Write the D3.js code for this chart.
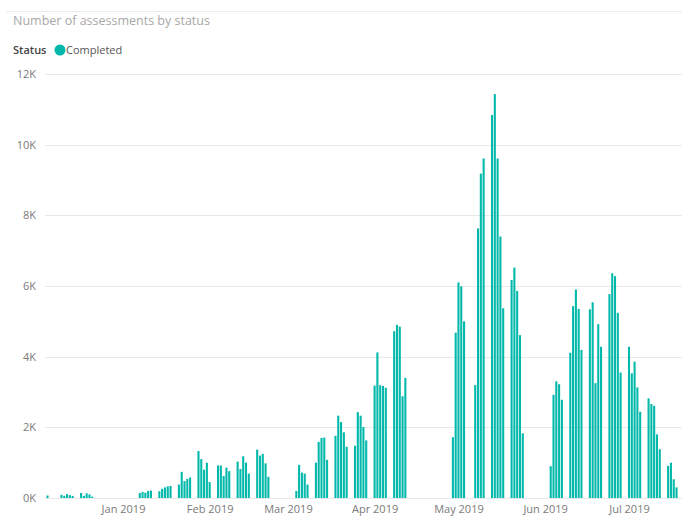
<!DOCTYPE html>
<html>
<head>
<meta charset="utf-8">
<script src="https://cdn.jsdelivr.net/npm/d3@7/dist/d3.min.js"></script>
<style>
  html, body { margin: 0; padding: 0; background: #ffffff; }
  svg { display: block; font-family: "Segoe UI", "Open Sans", "Noto Sans", sans-serif; }
</style>
</head>
<body>
<svg id="chart" width="682" height="517"></svg>
<script>
// ---------- DATA ----------
const chartTitle = "Number of assessments by status";
const legendTitle = "Status";
const seriesName = "Completed";

const dates = [
  "2018-12-05",
  "2018-12-10","2018-12-11","2018-12-12","2018-12-13","2018-12-14",
  "2018-12-17","2018-12-18","2018-12-19","2018-12-20","2018-12-21",
  "2019-01-07","2019-01-08","2019-01-09","2019-01-10","2019-01-11",
  "2019-01-14","2019-01-15","2019-01-16","2019-01-17","2019-01-18",
  "2019-01-21","2019-01-22","2019-01-23","2019-01-24","2019-01-25",
  "2019-01-28","2019-01-29","2019-01-30","2019-01-31","2019-02-01",
  "2019-02-04","2019-02-05","2019-02-06","2019-02-07","2019-02-08",
  "2019-02-11","2019-02-12","2019-02-13","2019-02-14","2019-02-15",
  "2019-02-18","2019-02-19","2019-02-20","2019-02-21","2019-02-22",
  "2019-03-04","2019-03-05","2019-03-06","2019-03-07","2019-03-08",
  "2019-03-11","2019-03-12","2019-03-13","2019-03-14","2019-03-15",
  "2019-03-18","2019-03-19","2019-03-20","2019-03-21","2019-03-22",
  "2019-03-25","2019-03-26","2019-03-27","2019-03-28","2019-03-29",
  "2019-04-01","2019-04-02","2019-04-03","2019-04-04","2019-04-05",
  "2019-04-08","2019-04-09","2019-04-10","2019-04-11","2019-04-12",
  "2019-04-29","2019-04-30","2019-05-01","2019-05-02","2019-05-03",
  "2019-05-07","2019-05-08","2019-05-09","2019-05-10",
  "2019-05-13","2019-05-14","2019-05-15","2019-05-16","2019-05-17",
  "2019-05-20","2019-05-21","2019-05-22","2019-05-23","2019-05-24",
  "2019-06-03","2019-06-04","2019-06-05","2019-06-06","2019-06-07",
  "2019-06-10","2019-06-11","2019-06-12","2019-06-13","2019-06-14",
  "2019-06-17","2019-06-18","2019-06-19","2019-06-20","2019-06-21",
  "2019-06-24","2019-06-25","2019-06-26","2019-06-27","2019-06-28",
  "2019-07-01","2019-07-02","2019-07-03","2019-07-04","2019-07-05",
  "2019-07-08","2019-07-09","2019-07-10","2019-07-11","2019-07-12",
  "2019-07-15","2019-07-16","2019-07-17","2019-07-18"
];

const completed = [
  70,
  90, 60, 110, 80, 60,
  140, 60, 130, 100, 40,
  140, 170, 150, 200, 210,
  190, 260, 300, 330, 340,
  380, 740, 480, 540, 580,
  1330, 1100, 800, 1000, 450,
  920, 920, 620, 860, 760,
  1030, 820, 1180, 1000, 690,
  1370, 1200, 1250, 980, 600,
  200, 940, 720, 690, 380,
  1000, 1590, 1700, 1710, 1080,
  1760, 2330, 2150, 1860, 1450,
  1480, 2430, 2330, 2010, 1630,
  3180, 4120, 3190, 3170, 3120,
  4720, 4900, 4850, 2880, 3400,
  1720, 4680, 6100, 5990, 5000,
  3200, 7630, 9180, 9610,
  10840, 11430, 9610, 7400, 5370,
  6170, 6520, 5860, 4610, 1830,
  900, 2920, 3300, 3220, 2780,
  4110, 5430, 5900, 5350, 4190,
  5340, 5540, 3250, 4920, 4280,
  5770, 6360, 6280, 5240, 3550,
  4280, 3530, 3860, 3130, 2440,
  2820, 2660, 2610, 1800, 1380,
  910, 1000, 530, 300
];

const xTickDates = ["2019-01-01","2019-02-01","2019-03-01","2019-04-01","2019-05-01","2019-06-01","2019-07-01"];
const xTickLabels = ["Jan 2019","Feb 2019","Mar 2019","Apr 2019","May 2019","Jun 2019","Jul 2019"];
const yTicks = [0, 2000, 4000, 6000, 8000, 10000, 12000];
const yTickLabels = ["0K","2K","4K","6K","8K","10K","12K"];

// ---------- CHART ----------
const W = 682, H = 517;
const svg = d3.select("#chart");
const parse = d3.utcParse("%Y-%m-%d");
const data = dates.map((d, i) => ({ date: parse(d), value: completed[i] }));

const plotLeft = 45, plotRight = 682;
const x = d3.scaleUtc()
  .domain([parse("2019-01-01"), parse("2019-07-01")])
  .range([123, 629]);
const y = d3.scaleLinear().domain([0, 12000]).range([498, 74]);

const teal = "#01B8AA";

// top faint border
svg.append("line").attr("x1", 6).attr("x2", W).attr("y1", 11.5).attr("y2", 11.5)
  .attr("stroke", "#ececec").attr("stroke-width", 1);

// title
svg.append("text").attr("x", 13).attr("y", 25)
  .attr("font-size", 12.5).attr("fill", "#a8a8a8").text(chartTitle);

// legend
svg.append("text").attr("x", 13).attr("y", 54)
  .attr("font-size", 11).attr("font-weight", 600).attr("fill", "#444").text(legendTitle);
svg.append("circle").attr("cx", 60).attr("cy", 50).attr("r", 5.5).attr("fill", teal);
svg.append("text").attr("x", 66).attr("y", 54)
  .attr("font-size", 11).attr("fill", "#555").text(seriesName);

// gridlines
svg.append("g").selectAll("line").data(yTicks).join("line")
  .attr("x1", plotLeft).attr("x2", plotRight)
  .attr("y1", d => Math.round(y(d)) + 0.5).attr("y2", d => Math.round(y(d)) + 0.5)
  .attr("stroke", "#e8e8e8").attr("stroke-width", 1);

// y axis
const yAxis = d3.axisLeft(y).tickValues(yTicks)
  .tickFormat((d, i) => yTickLabels[i]).tickSize(0).tickPadding(0);
const gy = svg.append("g").attr("transform", "translate(36,0)").call(yAxis);
gy.select(".domain").remove();
gy.selectAll("text").attr("font-size", 11).attr("fill", "#7a7a7a")
  .attr("font-family", "\"Segoe UI\", \"Open Sans\", sans-serif");

// bars
const dayW = x(parse("2019-01-02")) - x(parse("2019-01-01"));
const bw = dayW * 0.74;
svg.append("g").selectAll("rect").data(data).join("rect")
  .attr("x", d => x(d.date) - bw / 2)
  .attr("width", bw)
  .attr("y", d => y(d.value))
  .attr("height", d => y(0) - y(d.value))
  .attr("fill", teal);

// x axis
const xAxis = d3.axisBottom(x).tickValues(xTickDates.map(parse))
  .tickFormat((d, i) => xTickLabels[i]).tickSize(0).tickPadding(0);
const gx = svg.append("g").attr("transform", "translate(0,505)").call(xAxis);
gx.select(".domain").remove();
gx.selectAll("text").attr("font-size", 11).attr("fill", "#7a7a7a")
  .attr("font-family", "\"Segoe UI\", \"Open Sans\", sans-serif");
</script>
</body>
</html>
